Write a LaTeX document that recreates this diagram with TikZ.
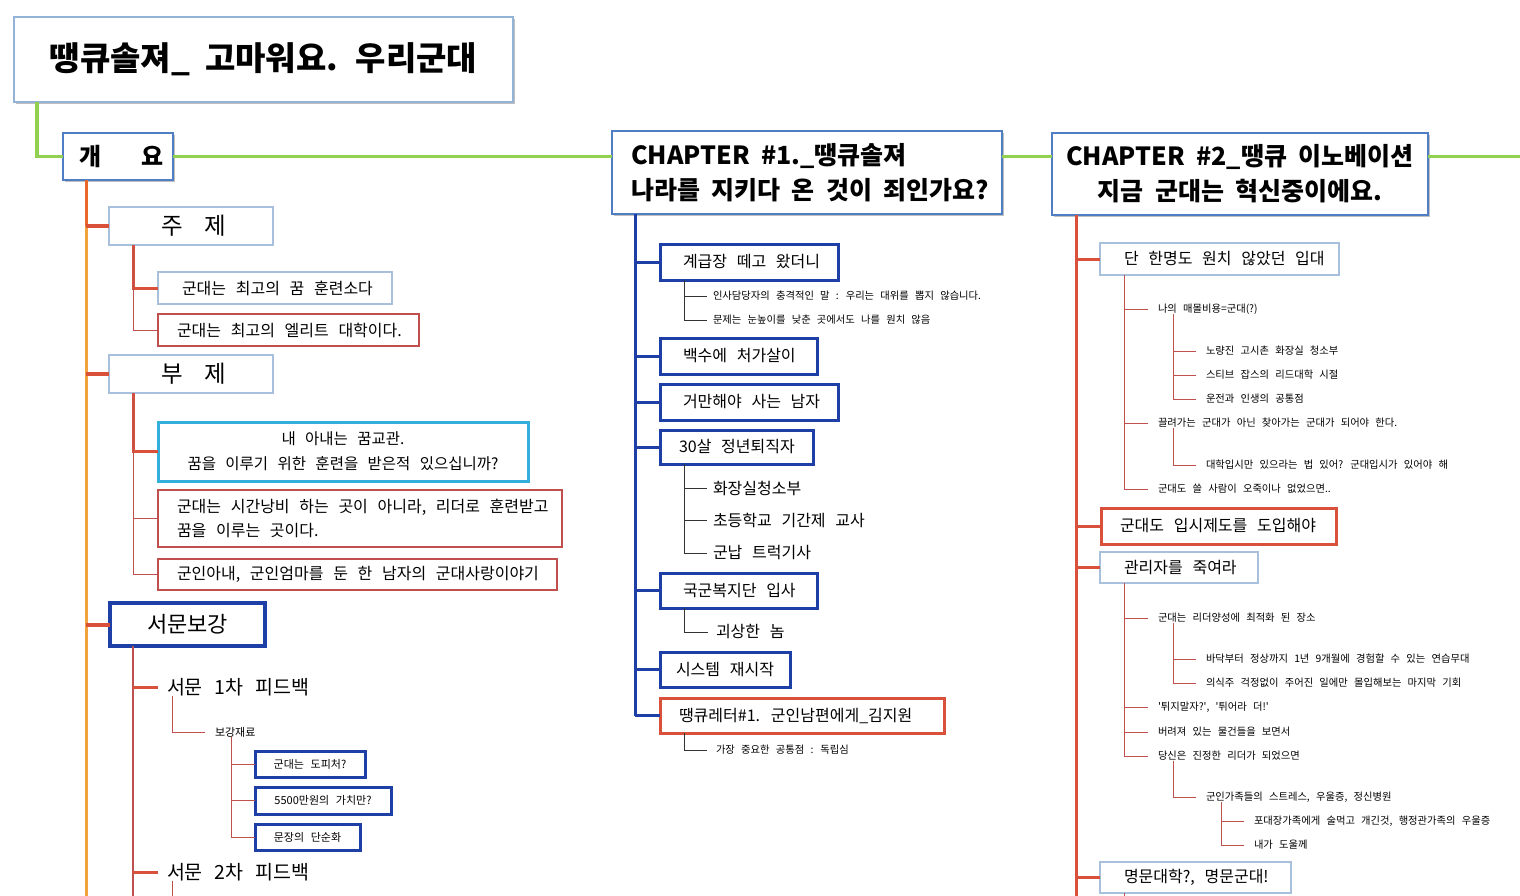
\documentclass[tikz,border=0pt]{standalone}
\usepackage{fontspec}
\setmainfont{Noto Sans CJK KR}[WordSpace=2.7, BoldFeatures={WordSpace=2}]
\usetikzlibrary{shadows}
\definecolor{gr}{HTML}{92D050}
\definecolor{tb}{HTML}{95B3D7}
\definecolor{cb}{HTML}{4F7EC4}
\definecolor{lb}{HTML}{A9C0DC}
\definecolor{db}{HTML}{1E3FA6}
\definecolor{cy}{HTML}{34AEDB}
\definecolor{rr}{HTML}{D9513A}
\definecolor{dr}{HTML}{C0504D}
\definecolor{og}{HTML}{F2A33E}
\definecolor{ogd}{HTML}{E8692B}
\newcommand{\myfs}[2]{\fontsize{#1}{#2}\selectfont}
\newcommand{\nb}[1]{\mbox{#1}}
\tikzset{
  x=1pt, y=-1pt,
  every node/.style={inner sep=0pt, outer sep=0pt},
  bx/.style={draw, anchor=north west, fill=white},
  sh/.style={drop shadow={shadow xshift=2pt, shadow yshift=-2pt, opacity=0.25, fill=black}},
  lbbox/.style={bx, draw=lb, line width=1.2pt},
  redthin/.style={bx, draw=dr, line width=1.2pt},
  dbbox/.style={bx, draw=db, line width=3pt},
  redbox/.style={bx, draw=rr, line width=3pt},
  chap/.style={bx, draw=cb, line width=2.5pt, sh},
  sleaf/.style={anchor=west, inner xsep=10pt, font=\myfs{10.3}{12}},
  mleaf/.style={anchor=west, inner xsep=6pt, font=\myfs{16}{19}},
  gline/.style={draw=gr, line width=3.5pt},
  rthick/.style={draw=rr, line width=3pt},
  rthin/.style={draw=dr, line width=1pt},
  bline/.style={draw=db, line width=3pt},
  kline/.style={draw=black!80, line width=0.9pt},
}
\begin{document}
\begin{tikzpicture}
\useasboundingbox[fill=white] (0,0) rectangle (1520,896);

% ---------- title and chapters
\node[bx, draw=tb, line width=2pt, sh, minimum height=85pt, text width=479pt, inner xsep=10pt, align=flush center, font=\bfseries\myfs{33}{38}] (title) at (14,17) {\nb{땡큐솔져\_ 고마워요. 우리군대}};
\node[chap, minimum height=47pt, text width=85pt, inner xsep=12.5pt, align=flush left, font=\bfseries\myfs{24}{28}] (gaeyo) at (63,133) {\nb{\hspace*{4pt}개\hspace{40pt}요}};
\node[chap, minimum height=83pt, text width=352pt, inner xsep=19pt, align=flush left, font=\bfseries\myfs{25}{35}] (ch1) at (612,131) {\nb{CHAPTER \#1.\_땡큐솔져}\\\nb{나라를 지키다 온 것이 죄인가요?}};
\node[chap, minimum height=82pt, text width=360pt, inner xsep=8pt, align=flush center, font=\bfseries\myfs{25}{35}] (ch2) at (1052,133) {\nb{CHAPTER \#2\_땡큐 이노베이션}\\\nb{지금 군대는 혁신중이에요.}};

% ---------- left column
\node[lbbox, minimum height=38pt, text width=144pt, inner xsep=10pt, align=flush center, font=\myfs{23.5}{26}] (juje) at (109,207) {\nb{\hspace*{6pt}주\hspace{22pt}제}};
\node[lbbox, minimum height=32pt, text width=186pt, inner xsep=24pt, align=flush left, font=\myfs{16}{19}] (jb1) at (158,272) {\nb{군대는 최고의 꿈 훈련소다}};
\node[redthin, minimum height=32pt, text width=223pt, inner xsep=19pt, align=flush left, font=\myfs{16}{19}] (jb2) at (158,314) {\nb{군대는 최고의 엘리트 대학이다.}};
\node[lbbox, minimum height=38pt, text width=144pt, inner xsep=10pt, align=flush center, font=\myfs{23.5}{26}] (buje) at (109,355) {\nb{\hspace*{6pt}부\hspace{22pt}제}};
\node[bx, draw=cy, line width=3pt, minimum height=59pt, text width=350pt, inner xsep=10pt, align=flush center, font=\myfs{15.5}{25}] (bb1) at (158,422) {\nb{내 아내는 꿈교관.}\\\nb{꿈을 이루기 위한 훈련을 받은적 있으십니까?}};
\node[redthin, minimum height=57pt, text width=366pt, inner xsep=19pt, align=flush left, font=\myfs{16}{24}] (bb2) at (158,490) {\nb{군대는 시간낭비 하는 곳이 아니라, 리더로 훈련받고}\\\nb{꿈을 이루는 곳이다.}};
\node[redthin, minimum height=31pt, text width=361pt, inner xsep=19pt, align=flush left, font=\myfs{16}{19}] (bb3) at (158,559) {\nb{군인아내, 군인엄마를 둔 한 남자의 군대사랑이야기}};
\node[bx, draw=db, line width=4pt, minimum height=43pt, text width=135pt, inner xsep=10pt, align=flush center, font=\myfs{22}{25}] (seomun) at (110,603) {\nb{서문보강}};
\node[anchor=west, inner xsep=9pt, font=\myfs{19.5}{22}] (s1) at (158,687) {서문 1차 피드백};
\node[anchor=west, inner xsep=10pt, font=\myfs{11}{13}] (bogang) at (205,732) {보강재료};
\node[dbbox, minimum height=26pt, text width=100pt, inner xsep=5pt, align=flush center, font=\myfs{11}{13}] (sb1) at (255,751) {\nb{군대는 도피처?}};
\node[dbbox, minimum height=27pt, text width=126pt, inner xsep=5pt, align=flush center, font=\myfs{11}{13}] (sb2) at (255,787) {\nb{5500만원의 가치만?}};
\node[dbbox, minimum height=26pt, text width=95pt, inner xsep=5pt, align=flush center, font=\myfs{11}{13}] (sb3) at (255,824) {\nb{문장의 단순화}};
\node[anchor=west, inner xsep=9pt, font=\myfs{19.5}{22}] (s2) at (158,872) {서문 2차 피드백};

% ---------- middle column
\node[dbbox, minimum height=36pt, text width=132pt, inner xsep=23pt, align=flush left, font=\myfs{16}{19}] (m1) at (660,244) {\nb{계급장 떼고 왔더니}};
\node[sleaf, inner xsep=6pt] (m1a) at (707,296) {인사담당자의 충격적인 말 : 우리는 대위를 뽑지 않습니다.};
\node[sleaf, inner xsep=6pt] (m1b) at (707,320) {문제는 눈높이를 낮춘 곳에서도 나를 원치 않음};
\node[dbbox, minimum height=36pt, text width=111pt, inner xsep=23pt, align=flush left, font=\myfs{16}{19}] (m2) at (660,338) {\nb{백수에 처가살이}};
\node[dbbox, minimum height=36pt, text width=132pt, inner xsep=23pt, align=flush left, font=\myfs{16}{19}] (m3) at (660,384) {\nb{거만해야 사는 남자}};
\node[dbbox, minimum height=34pt, text width=115pt, inner xsep=19pt, align=flush left, font=\myfs{16}{19}] (m4) at (660,430) {\nb{30살 정년퇴직자}};
\node[mleaf] (m4a) at (707,488) {화장실청소부};
\node[mleaf] (m4b) at (707,520) {초등학교 기간제 교사};
\node[mleaf] (m4c) at (707,553) {군납 트럭기사};
\node[dbbox, minimum height=35pt, text width=111pt, inner xsep=23pt, align=flush left, font=\myfs{16}{19}] (m5) at (660,573) {\nb{국군복지단 입사}};
\node[mleaf, inner xsep=8pt] (m5a) at (708,632) {괴상한 놈};
\node[dbbox, minimum height=35pt, text width=98pt, inner xsep=16pt, align=flush left, font=\myfs{16}{19}] (m6) at (660,652) {\nb{시스템 재시작}};
\node[redbox, minimum height=35pt, text width=246pt, inner xsep=19pt, align=flush left, font=\myfs{16}{19}] (m7) at (660,698) {\nb{땡큐레터\#1. 군인남편에게\_김지원}};
\node[sleaf, inner xsep=9pt] (m7a) at (707,750) {가장 중요한 공통점 : 독립심};

% ---------- right column
\node[lbbox, minimum height=32pt, text width=191pt, inner xsep=24pt, align=flush left, font=\myfs{16}{19}] (r1) at (1100,243) {\nb{단 한명도 원치 않았던 입대}};
\node[sleaf] (r1a) at (1148,309) {나의 매몰비용=군대(?)};
\node[sleaf] (r1a1) at (1196,351) {노량진 고시촌 화장실 청소부};
\node[sleaf] (r1a2) at (1196,375) {스티브 잡스의 리드대학 시절};
\node[sleaf] (r1a3) at (1196,399) {운전과 인생의 공통점};
\node[sleaf] (r1b) at (1148,423) {끌려가는 군대가 아닌 찾아가는 군대가 되어야 한다.};
\node[sleaf] (r1b1) at (1196,465) {대학입시만 있으라는 법 있어? 군대입시가 있어야 해};
\node[sleaf] (r1c) at (1148,489) {군대도 쓸 사람이 오죽이나 없었으면..};
\node[redbox, minimum height=36pt, text width=197pt, inner xsep=19pt, align=flush left, font=\myfs{16}{19}] (r2) at (1101,508) {\nb{군대도 입시제도를 도입해야}};
\node[lbbox, minimum height=31pt, text width=110pt, inner xsep=24pt, align=flush left, font=\myfs{16}{19}] (r3) at (1100,552) {\nb{관리자를 죽여라}};
\node[sleaf] (r3a) at (1148,618) {군대는 리더양성에 최적화 된 장소};
\node[sleaf] (r3a1) at (1196,659) {바닥부터 정상까지 1년 9개월에 경험할 수 있는 연습무대};
\node[sleaf] (r3a2) at (1196,683) {의식주 걱정없이 주어진 일에만 몰입해보는 마지막 기회};
\node[sleaf] (r3b) at (1148,707) {\textquotesingle 튀지말자?\textquotesingle, \textquotesingle 튀어라 더!\textquotesingle};
\node[sleaf] (r3c) at (1148,732) {버려져 있는 물건들을 보면서};
\node[sleaf] (r3d) at (1148,756) {당신은 진정한 리더가 되었으면};
\node[sleaf] (r3d1) at (1196,797) {군인가족들의 스트레스, 우울증, 정신병원};
\node[sleaf] (r3d1a) at (1244,821) {포대장가족에게 술먹고 개긴것, 행정관가족의 우울증};
\node[sleaf] (r3d1b) at (1244,845) {내가 도울께};
\node[lbbox, minimum height=31pt, text width=143pt, inner xsep=24pt, align=flush left, font=\myfs{16}{19}] (r4) at (1100,862) {\nb{명문대학?, 명문군대!}};

% ---------- green spine
\draw[gline] ([xshift=23pt]title.south west) |- (gaeyo.west);
\draw[gline] (gaeyo.east) -- (gaeyo.east -| ch1.west);
\draw[gline] (gaeyo.east -| ch1.east) -- (gaeyo.east -| ch2.west);
\coordinate (gend) at (1520,156.5);
\draw[gline] (gaeyo.east -| ch2.east) -- (gend);

% ---------- left connectors
\coordinate (ot) at ([xshift=23pt]gaeyo.south west);
\coordinate (obot) at (ot |- 0,896);
\draw[draw=og, line width=3pt] (ot) -- (obot);
\draw[draw=ogd, line width=3pt] (ot) -- (ot |- juje.west);
\foreach \n in {juje,buje,seomun} \draw[rthick, line width=4pt] (ot |- \n.west) -- (\n.west);
\draw[rthick] ([xshift=24pt]juje.south west) |- (jb1.west);
\draw[rthin] ([xshift=24pt]juje.south west) |- (jb2.west);
\draw[rthick] ([xshift=24pt]buje.south west) |- (bb1.west);
\draw[rthin] ([xshift=24pt]buje.south west) |- (bb2.west);
\draw[rthin] ([xshift=24pt]buje.south west) |- (bb3.west);
\coordinate (sv) at ([xshift=23pt]seomun.south west);
\coordinate (svb) at (sv |- 0,896);
\draw[rthin, line width=1.5pt] (sv) -- (svb);
\draw[rthick] (sv |- s1.west) -- (s1.west);
\draw[rthick] (sv |- s2.west) -- (s2.west);
\draw[rthin] ([xshift=14pt]s1.south west) |- (bogang.west);
\foreach \n in {sb1,sb2,sb3} \draw[rthin] ([xshift=26pt]bogang.south west) |- (\n.west);
\coordinate (s2v) at ([xshift=14pt]s2.south west);
\coordinate (s2b) at (s2v |- 0,896);
\draw[rthin] (s2v) -- (s2b);

% ---------- middle connectors
\coordinate (mv) at ([xshift=23pt]ch1.south west);
\draw[bline] (mv) -- (mv |- m7.west);
\foreach \n in {m1,m2,m3,m4,m5,m6,m7} \draw[bline] (mv |- \n.west) -- (\n.west);
\foreach \n in {m1a,m1b} \draw[kline] ([xshift=24pt]m1.south west) |- (\n.west);
\foreach \n in {m4a,m4b,m4c} \draw[kline] ([xshift=24pt]m4.south west) |- (\n.west);
\draw[kline] ([xshift=24pt]m5.south west) |- (m5a.west);
\draw[kline] ([xshift=24pt]m7.south west) |- (m7a.west);

% ---------- right connectors
\coordinate (rv) at ([xshift=24pt]ch2.south west);
\coordinate (rvb) at (rv |- 0,896);
\draw[rthick] (rv) -- (rvb);
\foreach \n in {r1,r2,r3,r4} \draw[rthick] (rv |- \n.west) -- (\n.west);
\foreach \n in {r1a,r1b,r1c} \draw[rthin] ([xshift=24pt]r1.south west) |- (\n.west);
\foreach \n in {r1a1,r1a2,r1a3} \draw[rthin] ([xshift=25pt]r1a.south west) |- (\n.west);
\draw[rthin] ([xshift=25pt]r1b.south west) |- (r1b1.west);
\foreach \n in {r3a,r3b,r3c,r3d} \draw[rthin] ([xshift=24pt]r3.south west) |- (\n.west);
\foreach \n in {r3a1,r3a2} \draw[rthin] ([xshift=25pt]r3a.south west) |- (\n.west);
\draw[rthin] ([xshift=25pt]r3d.south west) |- (r3d1.west);
\foreach \n in {r3d1a,r3d1b} \draw[rthin] ([xshift=25pt]r3d1.south west) |- (\n.west);
\coordinate (r4v) at ([xshift=24pt]r4.south west);
\coordinate (r4b) at (r4v |- 0,896);
\draw[rthin] (r4v) -- (r4b);
\end{tikzpicture}
\end{document}
